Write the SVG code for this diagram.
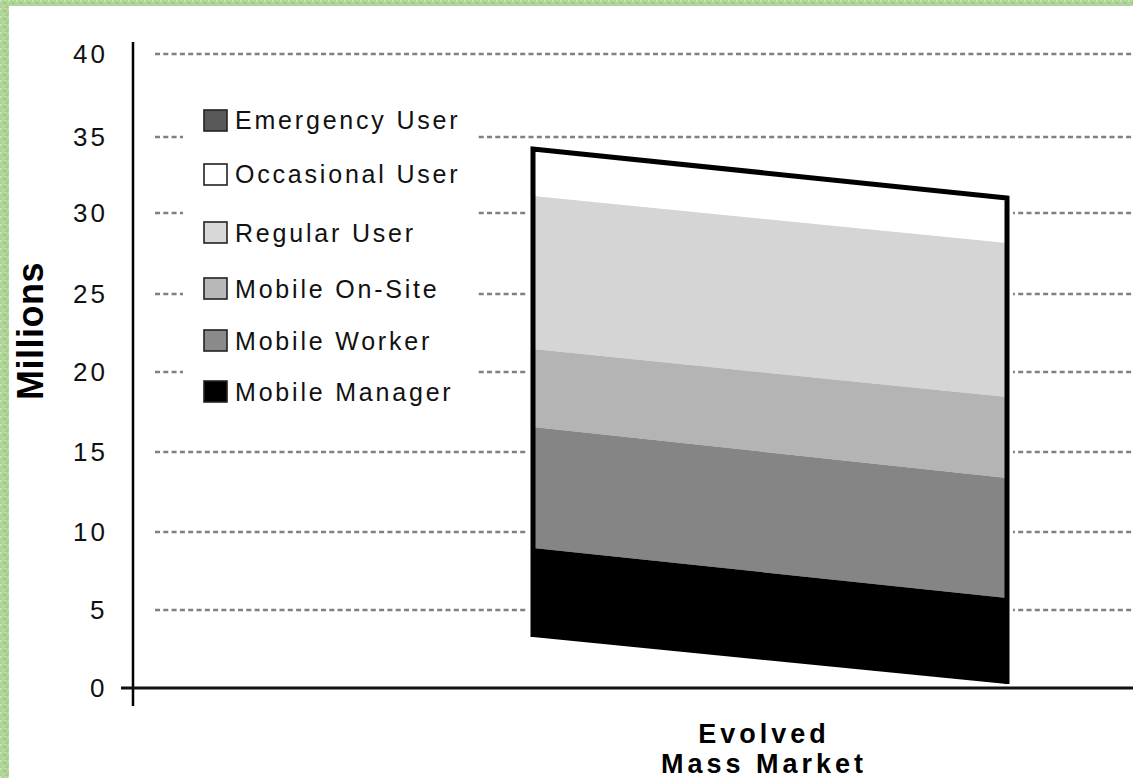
<svg xmlns="http://www.w3.org/2000/svg" width="1133" height="778" viewBox="0 0 1133 778">
<style>
.grid{stroke:#808080;stroke-width:2.3;stroke-dasharray:5 3.3;fill:none}
.tick{font-family:"Liberation Sans",Arial,sans-serif;font-size:26px;letter-spacing:3px;fill:#111}
.leg{font-family:"Liberation Sans",Arial,sans-serif;font-size:25px;letter-spacing:2.8px;fill:#111}
.box{stroke:#222;stroke-width:1.6}
.bold{font-family:"Liberation Sans",Arial,sans-serif;font-weight:bold;fill:#000}
</style>
<defs>
<pattern id="tex" width="8" height="8" patternUnits="userSpaceOnUse">
<rect width="8" height="8" fill="#afd497"/>
<rect x="0" y="0" width="2" height="2" fill="#c6e0b0"/>
<rect x="4" y="2" width="2" height="2" fill="#98c482"/>
<rect x="2" y="5" width="2" height="2" fill="#bcdca6"/>
<rect x="6" y="6" width="2" height="2" fill="#9fca88"/>
<rect x="5" y="0" width="1" height="1" fill="#d2e6c0"/>
</pattern>
</defs>
<rect width="1133" height="778" fill="url(#tex)"/>
<rect x="9" y="6" width="1124" height="772" fill="#fff"/>

<g id="gridlines">
<line class="grid" x1="155" y1="54" x2="1133" y2="54"/>
<line class="grid" x1="155" y1="137" x2="1133" y2="137"/>
<line class="grid" x1="155" y1="213" x2="1133" y2="213"/>
<line class="grid" x1="155" y1="294" x2="1133" y2="294"/>
<line class="grid" x1="155" y1="372" x2="1133" y2="372"/>
<line class="grid" x1="155" y1="452" x2="1133" y2="452"/>
<line class="grid" x1="155" y1="532" x2="1133" y2="532"/>
<line class="grid" x1="155" y1="610" x2="1133" y2="610"/>
</g>

<g id="axes">
<line x1="133" y1="42" x2="133" y2="706" stroke="#000" stroke-width="2.5"/>
<line x1="121" y1="688" x2="1133" y2="688" stroke="#111" stroke-width="3"/>
</g>

<g id="ticklabels">
<text class="tick" x="73" y="63">40</text>
<text class="tick" x="73" y="146">35</text>
<text class="tick" x="73" y="222">30</text>
<text class="tick" x="73" y="303">25</text>
<text class="tick" x="73" y="381">20</text>
<text class="tick" x="73" y="461">15</text>
<text class="tick" x="73" y="541">10</text>
<text class="tick" x="90" y="619">5</text>
<text class="tick" x="90" y="697">0</text>
</g>

<text class="bold" font-size="36" letter-spacing="0.5" text-anchor="middle" transform="translate(43,331) rotate(-90)">Millions</text>

<g id="legend">
<rect x="183" y="96" width="295" height="316" fill="#fff"/>
<g id="leg-emergency"><rect class="box" x="204" y="110" width="23" height="21" fill="#595959"/><text class="leg" x="235" y="129">Emergency User</text></g>
<g id="leg-occasional"><rect class="box" x="204" y="164" width="23" height="21" fill="#fff"/><text class="leg" x="235" y="183">Occasional User</text></g>
<g id="leg-regular"><rect class="box" x="204" y="222" width="23" height="21" fill="#d8d8d8"/><text class="leg" x="235" y="242">Regular User</text></g>
<g id="leg-onsite"><rect class="box" x="204" y="278" width="23" height="21" fill="#b8b8b8"/><text class="leg" x="235" y="298">Mobile On-Site</text></g>
<g id="leg-worker"><rect class="box" x="204" y="330" width="23" height="21" fill="#8a8a8a"/><text class="leg" x="235" y="350">Mobile Worker</text></g>
<g id="leg-manager"><rect class="box" x="204" y="381" width="23" height="21" fill="#000"/><text class="leg" x="235" y="401">Mobile Manager</text></g>
</g>

<g id="bar">
<polygon points="527,143 1013,193 1013,686 527,640" fill="#fff"/>
<polygon points="533,149 1007,198 1007,243 533,196" fill="#fff"/>
<polygon points="533,196 1007,243 1007,397 533,349" fill="#d5d5d5"/>
<polygon points="533,349 1007,397 1007,478 533,427" fill="#b4b4b4"/>
<polygon points="533,427 1007,478 1007,598 533,548" fill="#858585"/>
<polygon points="533,548 1007,598 1007,684 533,637" fill="#000"/>
<polyline points="533,637 533,149 1007,198 1007,684" fill="none" stroke="#000" stroke-width="5" stroke-linejoin="miter"/>
</g>

<g id="category">
<text class="bold" font-size="27" letter-spacing="4" text-anchor="middle" x="764" y="743">Evolved</text>
<text class="bold" font-size="27" letter-spacing="4" text-anchor="middle" x="764" y="773">Mass Market</text>
</g>
</svg>
